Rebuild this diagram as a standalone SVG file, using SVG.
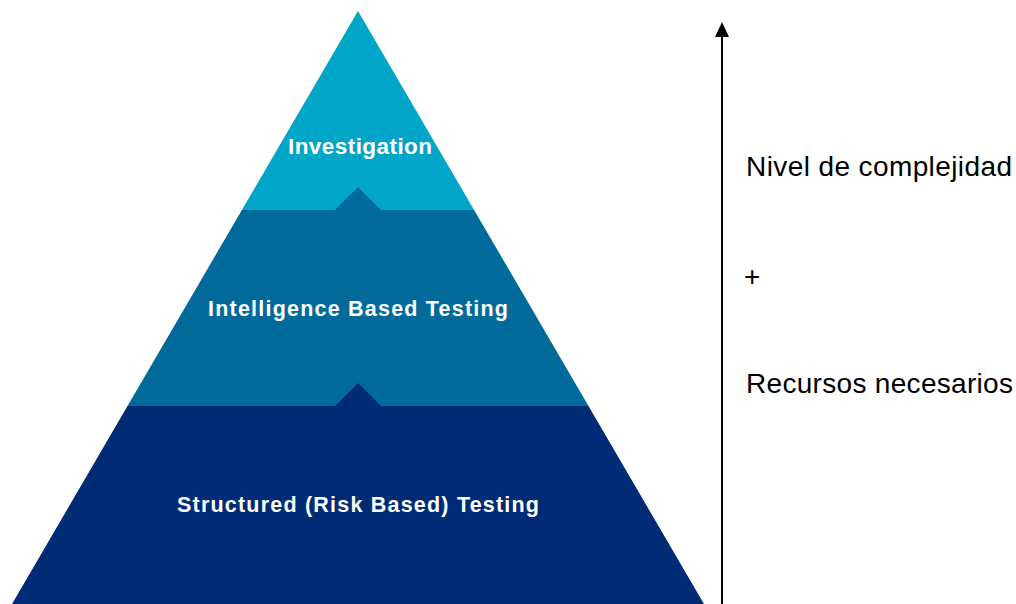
<svg xmlns="http://www.w3.org/2000/svg" width="1016" height="604" viewBox="0 0 1016 604">
<style>
.lbl{font-family:"Liberation Sans",Arial,sans-serif;font-weight:bold;fill:#ffffff;text-anchor:middle;}
.side{font-family:"Liberation Sans",Arial,sans-serif;fill:#000000;font-size:28px;}
</style>
<rect width="1016" height="604" fill="#ffffff"/>
<g id="level-top">
<polygon points="358,11 474.1,210 241.9,210" fill="#00A6C8"/>
<text class="lbl" x="360" y="154" font-size="22.5" textLength="144" lengthAdjust="spacing">Investigation</text>
</g>
<g id="level-middle">
<polygon points="241.9,210 335,210 358,187 381,210 474.1,210 588.5,406 127.5,406" fill="#006B9B"/>
<text class="lbl" x="358" y="316" font-size="21.5" textLength="300" lengthAdjust="spacing">Intelligence  Based Testing</text>
</g>
<g id="level-bottom">
<polygon points="127.5,406 335,406 358,383 381,406 588.5,406 707.5,610 8.5,610" fill="#002C76"/>
<text class="lbl" x="358" y="512" font-size="21.5" textLength="362" lengthAdjust="spacing">Structured (Risk Based) Testing</text>
</g>
<g id="connectors">
<line x1="722" y1="604" x2="722" y2="34" stroke="#000000" stroke-width="2"/>
<polygon points="722,22 715,37 729,37" fill="#000000"/>
</g>
<g id="axis-labels">
<text class="side" x="746" y="176" textLength="266" lengthAdjust="spacing">Nivel de complejidad</text>
<text class="side" x="744" y="286">+</text>
<text class="side" x="746" y="393" textLength="267" lengthAdjust="spacing">Recursos necesarios</text>
</g>
</svg>
